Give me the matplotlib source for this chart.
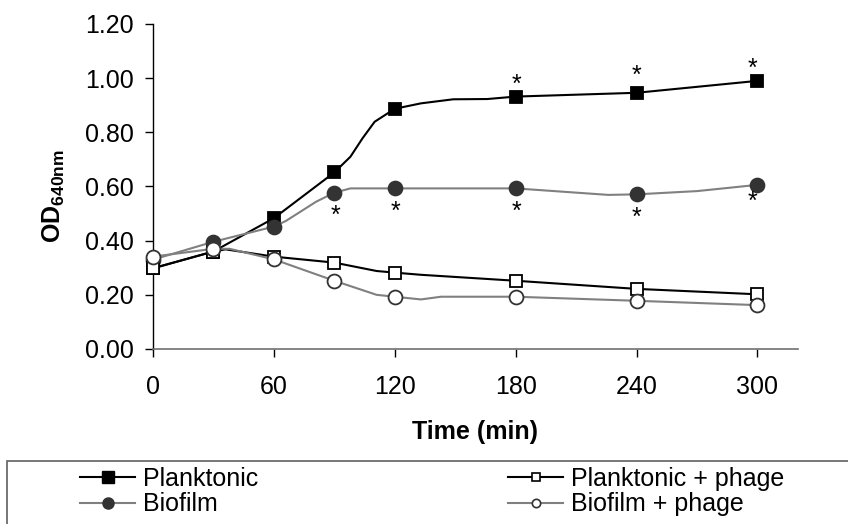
import matplotlib
matplotlib.use("Agg")
import matplotlib.pyplot as plt
from matplotlib.lines import Line2D
from matplotlib.patches import Rectangle
import numpy as np

plt.rcParams["font.family"] = ["Liberation Sans", "DejaVu Sans"]
plt.rcParams["mathtext.fontset"] = "custom"
plt.rcParams["mathtext.rm"] = "Liberation Sans"
plt.rcParams["mathtext.bf"] = "Liberation Sans:bold"

# sampling times with markers
sample_times = [0, 30, 60, 90, 120, 180, 240, 300]

# curve vertices (time, OD) for each series; sampled times are included
planktonic_t = [0, 30, 60, 90, 98, 104, 110, 120, 133, 149, 166, 180, 240, 300]
planktonic = [0.298, 0.36, 0.483, 0.652, 0.71, 0.778, 0.839, 0.887, 0.907, 0.922, 0.923, 0.932, 0.946, 0.99]

biofilm_t = [0, 30, 60, 66, 81, 90, 98, 120, 180, 226, 240, 270, 300]
biofilm = [0.33, 0.396, 0.452, 0.473, 0.544, 0.577, 0.593, 0.593, 0.593, 0.569, 0.571, 0.583, 0.606]

plank_phage_t = [0, 30, 36, 60, 90, 111, 120, 133, 180, 240, 300]
plank_phage = [0.298, 0.36, 0.368, 0.341, 0.319, 0.288, 0.282, 0.274, 0.252, 0.222, 0.202]

bio_phage_t = [0, 30, 38, 60, 90, 111, 120, 133, 143, 180, 240, 300]
bio_phage = [0.341, 0.37, 0.37, 0.331, 0.252, 0.2, 0.193, 0.183, 0.193, 0.193, 0.178, 0.162]

# significance stars: (time, offset of star centre in px; + above, - below)
plank_star_times = [180, 240, 300]
plank_star_dy = [15, 20, 16]
plank_star_dx = [1, 0, -5]
bio_star_times = [90, 120, 180, 240, 300]
bio_star_dy = [-20, -20, -20, -20, -13]
bio_star_dx = [1, 1, 1, 0, -5]

y_ticks = [0.0, 0.2, 0.4, 0.6, 0.8, 1.0, 1.2]
x_ticks = [0, 60, 120, 180, 240, 300]

fig = plt.figure(figsize=(8.48, 5.24), dpi=100)
ax = fig.add_axes([153 / 848, 1 - 349 / 524, (797.7 - 153) / 848, (349 - 24) / 524])

series = [
    (planktonic_t, planktonic, dict(color="black", marker="s", mfc="black", mec="black", ms=9)),
    (biofilm_t, biofilm, dict(color="#808080", marker="o", mfc="#333333", mec="#333333", ms=10)),
    (plank_phage_t, plank_phage, dict(color="black", marker="s", mfc="white", mec="black", ms=9)),
    (bio_phage_t, bio_phage, dict(color="#808080", marker="o", mfc="white", mec="#333333", ms=10)),
]
for i, (tt, vals, st) in enumerate(series):
    idx = list(np.nonzero(np.isin(tt, sample_times))[0])
    ax.plot(tt, vals, lw=1.5, mew=1.3, markevery=idx, zorder=3 + i, clip_on=False, **st)

FS = 18
px = 72 / fig.dpi
glyph_mid = 0.42 * FS  # star glyph centre above baseline, pt


def stars(times, tt, vals, dys, dxs):
    for t, dy, dx in zip(times, dys, dxs):
        y = vals[tt.index(t)]
        ax.annotate("*", (t, y), xytext=(dx * px, dy * px - glyph_mid),
                    textcoords="offset points", ha="center", va="baseline",
                    fontsize=FS, zorder=10)


stars(plank_star_times, planktonic_t, planktonic, plank_star_dy, plank_star_dx)
stars(bio_star_times, biofilm_t, biofilm, bio_star_dy, bio_star_dx)

ax.set_xlim(0, 320)
ax.set_ylim(0, 1.2)
ax.set_xticks(x_ticks)
ax.set_yticks(y_ticks)
ax.set_yticklabels([f"{v:.2f}" for v in y_ticks])
ax.tick_params(axis="both", direction="out", length=5.8, width=1, labelsize=FS, colors="black")
ax.tick_params(axis="y", pad=8)
ax.tick_params(axis="x", pad=13)
for s in ["top", "right"]:
    ax.spines[s].set_visible(False)
ax.spines["left"].set_color("black")
ax.spines["bottom"].set_color("#707070")
ax.spines["left"].set_linewidth(1)
ax.spines["bottom"].set_linewidth(1.2)

ax.set_xlabel("Time (min)", fontsize=FS, fontweight="bold")
ax.xaxis.set_label_coords(0.5, -0.218)
ax.set_ylabel(r"$\mathbf{OD}_{\mathbf{640nm}}$", fontsize=FS)
ax.yaxis.set_label_coords(-0.133, 0.47)

# legend box running off the bottom-right of the figure
fig.patches.append(Rectangle((7 / 848, -0.1), 1.0, 1 - 461 / 524 + 0.1,
                             transform=fig.transFigure, fill=False,
                             edgecolor="#606060", lw=1.2))

handles = [
    Line2D([], [], color="black", lw=1.5, marker="s", mfc="black", mec="black", ms=8),
    Line2D([], [], color="#808080", lw=1.5, marker="o", mfc="#333333", mec="#333333", ms=8),
    Line2D([], [], color="black", lw=1.5, marker="s", mfc="white", mec="black", ms=6, mew=1.2),
    Line2D([], [], color="#808080", lw=1.5, marker="o", mfc="white", mec="#333333", ms=6, mew=1.2),
]
labels = ["Planktonic", "Biofilm", "Planktonic + phage", "Biofilm + phage"]
fig.legend(handles, labels, loc="upper left", bbox_to_anchor=(80 / 848, 1 - 467 / 524),
           ncol=2, frameon=False, fontsize=FS, borderpad=0, borderaxespad=0,
           handlelength=2.2, handletextpad=0.32, columnspacing=10, labelspacing=0.05)

fig.savefig("out.png", dpi=100)
